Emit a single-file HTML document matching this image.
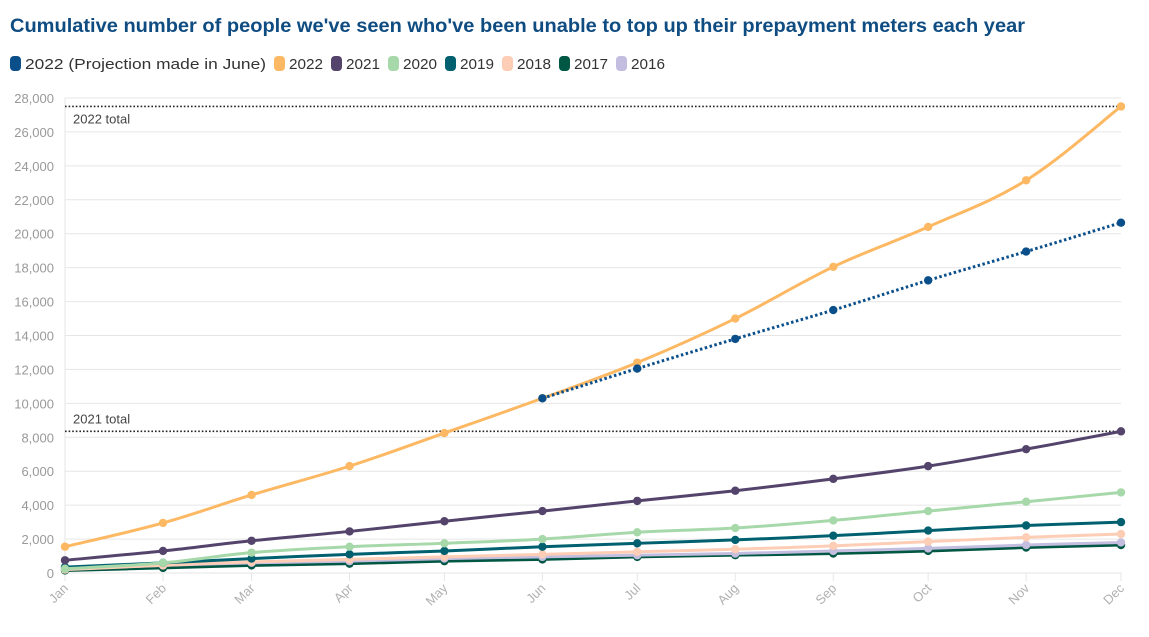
<!DOCTYPE html>
<html><head><meta charset="utf-8"><style>
html,body{margin:0;padding:0;background:#fff;}
svg{display:block;font-family:"Liberation Sans",sans-serif;}
</style></head><body>
<svg id="chart" width="1149" height="637" viewBox="0 0 1149 637">
<text x="10" y="32" font-size="19" font-weight="bold" fill="#0f4c81" textLength="1015" lengthAdjust="spacingAndGlyphs">Cumulative number of people we've seen who've been unable to top up their prepayment meters each year</text>
<g id="legend"></g>
<g id="grid"></g>
<g id="series"></g>
</svg>
<script>
const months=["Jan","Feb","Mar","Apr","May","Jun","Jul","Aug","Sep","Oct","Nov","Dec"];
const monthDays=[0,31,59,90,120,151,181,212,243,273,304,334];
const yTicks=[0,2000,4000,6000,8000,10000,12000,14000,16000,18000,20000,22000,24000,26000,28000];
const s2022=[1550,2950,4600,6300,8250,10300,12400,15000,18050,20400,23150,27500];
const sProj=[null,null,null,null,null,10300,12050,13800,15500,17250,18950,20650];
const s2021=[750,1300,1900,2450,3050,3650,4250,4850,5550,6300,7300,8350];
const s2020=[250,600,1200,1550,1750,2000,2400,2650,3100,3650,4200,4750];
const s2019=[350,600,850,1100,1300,1550,1750,1950,2200,2500,2800,3000];
const s2018=[200,450,650,800,950,1100,1250,1400,1600,1850,2100,2300];
const s2017=[150,300,450,550,700,800,950,1050,1150,1300,1500,1650];
const s2016=[250,450,600,700,850,950,1050,1150,1300,1450,1650,1800];
const totals=[27500,8350];
const totalLabels=["2022 total","2021 total"];
const totalLabelDy=[17,-8];
const legendNames=["2022 (Projection made in June)","2022","2021","2020","2019","2018","2017","2016"];
const legendColors=["#0b4f8a","#fdb863","#54446c","#a6d8aa","#00606f","#fdcdb5","#005743","#c3bde0"];

const NS="http://www.w3.org/2000/svg";
const X0=65,X1=1121,Y0=573,Y1=98;
const xs=i=>X0+(monthDays[i]/334)*(X1-X0);
const ys=v=>Y0-(v/28000)*(Y0-Y1);
function mk(tag,attrs,parent){const e=document.createElementNS(NS,tag);for(const k in attrs)e.setAttribute(k,attrs[k]);parent.appendChild(e);return e;}
const grid=document.getElementById('grid'),ser=document.getElementById('series'),leg=document.getElementById('legend');

const legW=[241,34,34,34,34,34,34,34];
let lx=10;
legendNames.forEach((n,i)=>{
  const g=mk('g',{},leg);
  
  
  mk('rect',{x:lx,y:56,width:11,height:15,rx:4,fill:legendColors[i]},g);
  const t=mk('text',{x:lx+15,y:69,'font-size':15,fill:'#333',textLength:legW[i],lengthAdjust:'spacingAndGlyphs'},g);
  t.textContent=n;
  lx+=15+legW[i]+8;
});

yTicks.forEach(v=>{
  const y=ys(v);
  const l=mk('line',{x1:X0,x2:X1,y1:y,y2:y,stroke:'#e6e6e6','stroke-width':1},grid);
  
  
  const t=mk('text',{x:54,y:y+5,'font-size':13,fill:'#999','text-anchor':'end'},grid);
  
  
  t.textContent=v.toLocaleString('en-US');
});
mk('line',{x1:X0,x2:X0,y1:Y1,y2:Y0,stroke:'#e6e6e6'},grid);
months.forEach((m,i)=>{
  const x=xs(i);
  mk('line',{x1:x,x2:x,y1:Y0,y2:Y0+8,stroke:'#e6e6e6'},grid);
  const t=mk('text',{x:x+4,y:Y0+16,'font-size':13,fill:'#b0b0b0','text-anchor':'end',transform:`rotate(-45 ${x+4} ${Y0+16})`},grid);
  
  
  t.textContent=m;
});
totals.forEach((v,i)=>{
  const y=ys(v);
  const l=mk('line',{x1:X0,x2:X1,y1:y,y2:y,stroke:'#222','stroke-width':1.6,'stroke-dasharray':'1.6 2'},grid);
  
  
  const t=mk('text',{x:73,y:y+totalLabelDy[i],'font-size':13,fill:'#444'},grid);
  
  
  t.textContent=totalLabels[i];
});

function spline(pts){
  let d=`M${pts[0][0]},${pts[0][1]}`;
  for(let i=0;i<pts.length-1;i++){
    const p0=pts[i-1]||pts[i],p1=pts[i],p2=pts[i+1],p3=pts[i+2]||p2;
    const t=0.18;
    const c1=[p1[0]+(p2[0]-p0[0])*t,p1[1]+(p2[1]-p0[1])*t];
    const c2=[p2[0]-(p3[0]-p1[0])*t,p2[1]-(p3[1]-p1[1])*t];
    d+=` C${c1[0]},${c1[1]} ${c2[0]},${c2[1]} ${p2[0]},${p2[1]}`;
  }
  return d;
}
function draw(data,color,name,dashed){
  const g=mk('g',{},ser);
  
  
  const pts=[];data.forEach((v,i)=>{if(v!==null)pts.push([xs(i),ys(v)]);});
  const p=mk('path',{d:spline(pts),fill:'none',stroke:color,'stroke-width':3,'stroke-dasharray':dashed?'2.5 2.5':'none'},g);
  
  
  pts.forEach(q=>{
    const c=mk('circle',{cx:q[0],cy:q[1],r:4.2,fill:color},g);
    
    
  });
}
draw(s2017,legendColors[6],'2017');
draw(s2016,legendColors[7],'2016');
draw(s2018,legendColors[5],'2018');
draw(s2019,legendColors[4],'2019');
draw(s2020,legendColors[3],'2020');
draw(s2021,legendColors[2],'2021');
draw(s2022,legendColors[1],'2022');
draw(sProj,legendColors[0],'2022-projection',true);
</script>
</body></html>
